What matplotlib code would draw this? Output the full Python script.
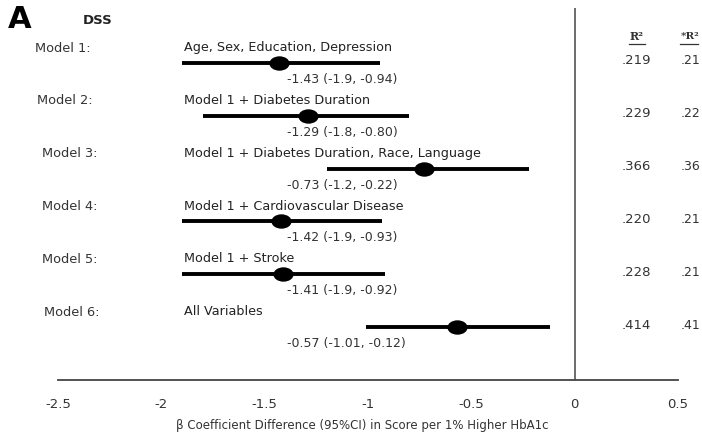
import matplotlib
matplotlib.use("Agg")
import matplotlib.pyplot as plt
from matplotlib.path import Path
from matplotlib.transforms import Affine2D

# Regression models for the DSS score
models = ["Model 1:", "Model 2:", "Model 3:", "Model 4:", "Model 5:", "Model 6:"]
descriptions = [
    "Age, Sex, Education, Depression",
    "Model 1 + Diabetes Duration",
    "Model 1 + Diabetes Duration, Race, Language",
    "Model 1 + Cardiovascular Disease",
    "Model 1 + Stroke",
    "All Variables",
]
beta = [-1.43, -1.29, -0.73, -1.42, -1.41, -0.57]
ci_low = [-1.9, -1.8, -1.2, -1.9, -1.9, -1.01]
ci_high = [-0.94, -0.80, -0.22, -0.93, -0.92, -0.12]
ci_text = ["-1.9", "-1.8", "-1.2", "-1.9", "-1.9", "-1.01"]
r2 = [".219", ".229", ".366", ".220", ".228", ".414"]
adj_r2 = [".21", ".22", ".36", ".21", ".21", ".41"]
xticks = [-2.5, -2, -1.5, -1, -0.5, 0, 0.5]
xtick_labels = ["-2.5", "-2", "-1.5", "-1", "-0.5", "0", "0.5"]

TXT = "#333333"
W, H = 702, 434
fig = plt.figure(figsize=(W / 100, H / 100), dpi=100)
# axes spans x = -2.5 .. 0.5 horizontally, rows top-to-bottom
left_px, right_px, top_px, bottom_px = 58, 678, 8, 380
ax = fig.add_axes([left_px / W, 1 - bottom_px / H,
                   (right_px - left_px) / W, (bottom_px - top_px) / H])
ax.set_xlim(-2.5, 0.5)
ax.set_ylim(6.0, -1.04)
ax.patch.set_alpha(0)
for s in ["top", "right", "left"]:
    ax.spines[s].set_visible(False)
ax.spines["bottom"].set_color("#444444")
ax.spines["bottom"].set_linewidth(1.3)
ax.set_yticks([])
ax.set_xticks(xticks)
ax.set_xticklabels(xtick_labels, fontsize=9.5, color=TXT)
ax.tick_params(axis="x", length=0, pad=13)
ax.set_xlabel("β Coefficient Difference (95%CI) in Score per 1% Higher HbA1c",
              fontsize=8.5, color=TXT, va="center")
ax.xaxis.set_label_coords(0.49, -0.122)

ax.axvline(0, color="#444444", lw=1.1)

# slightly flattened dot for the point estimates
ellipse = Path.unit_circle().transformed(Affine2D().scale(1.4, 1.0))

label_x_px = [35, 37, 42, 42, 42, 44]
for i in range(len(models)):
    ax.plot([ci_low[i], ci_high[i]], [i, i], color="black", lw=2.8,
            solid_capstyle="butt", zorder=3)
    ax.plot(beta[i], i, marker=ellipse, ms=14.5, color="black", zorder=4,
            markeredgewidth=0)
    # model name at the far left (figure pixel coordinates)
    fig.text(label_x_px[i] / W, 1 - (63 + 52.8 * i - 15) / H, models[i],
             fontsize=9.3, color=TXT, va="center", ha="left")
    ax.text(-1.888, i - 0.29, descriptions[i], fontsize=9.2, color="#222222",
            va="center", ha="left")
    ax.text(-1.39, i + 0.31,
            f"{beta[i]:.2f} ({ci_text[i]}, {ci_high[i]:.2f})",
            fontsize=9, color=TXT, va="center", ha="left")
    ax.text(0.3, i - 0.04, r2[i], fontsize=9.5, color=TXT,
            va="center", ha="center")
    ax.text(0.512, i - 0.04, adj_r2[i], fontsize=9, color=TXT,
            va="center", ha="left", clip_on=False)

# column headers with underlines
ax.text(0.3, -0.5, "R²", fontsize=8, fontweight="bold", color=TXT,
        va="center", ha="center", family="DejaVu Serif")
ax.plot([0.262, 0.338], [-0.36, -0.36], color=TXT, lw=0.9, clip_on=False)
ax.text(0.512, -0.5, "*R²", fontsize=7.5, fontweight="bold", color=TXT,
        va="center", ha="left", family="DejaVu Serif", clip_on=False)
ax.plot([0.512, 0.598], [-0.36, -0.36], color=TXT, lw=0.9, clip_on=False)

fig.text(8 / W, 1 - 20 / H, "A", fontsize=22, fontweight="bold",
         va="center", ha="left")
fig.text(83 / W, 1 - 20 / H, "DSS", fontsize=9.5, fontweight="bold",
         va="center", ha="left", color="#222222")

fig.savefig("out.png", dpi=100, facecolor="white")
